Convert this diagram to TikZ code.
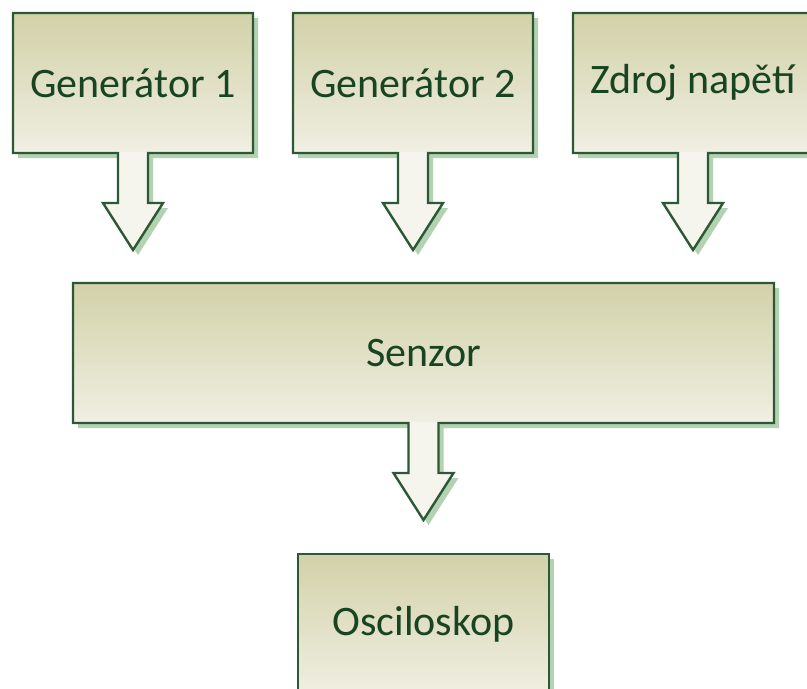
\documentclass[tikz,border=0pt]{standalone}
\usepackage{fontspec}
\setmainfont{Carlito}
\usetikzlibrary{backgrounds}
\definecolor{boxtop}{RGB}{210,209,168}
\definecolor{boxbot}{RGB}{240,239,227}
\definecolor{arrowc}{RGB}{245,245,237}
\definecolor{borderc}{RGB}{44,88,54}
\definecolor{textc}{RGB}{24,68,34}
\definecolor{shadowc}{RGB}{178,210,178}
\tikzset{
  box/.style={inner sep=0pt, outer sep=0pt, text=textc,
    font=\fontsize{42}{50}\selectfont},
  outline/.style={draw=borderc, line width=2.4pt, line join=miter},
  shadowpath/.style={fill=shadowc, transform canvas={xshift=5pt,yshift=-5pt}},
  boxshade/.style={top color=boxtop, bottom color=boxbot},
  arrowfill/.style={fill=arrowc}
}
% full outline of a box with a down arrow below it
\newcommand\callout[1]{(#1.north west) -- (#1.north east) -- (#1.south east)
  -- ([xshift=15pt]#1.south) -- ([xshift=15pt,yshift=-50pt]#1.south)
  -- ([xshift=30pt,yshift=-50pt]#1.south) -- ([yshift=-97pt]#1.south)
  -- ([xshift=-30pt,yshift=-50pt]#1.south) -- ([xshift=-15pt,yshift=-50pt]#1.south)
  -- ([xshift=-15pt]#1.south) -- (#1.south west) -- cycle}
\newcommand\arrowonly[1]{([xshift=15pt,yshift=1pt]#1.south) -- ([xshift=15pt,yshift=-50pt]#1.south)
  -- ([xshift=30pt,yshift=-50pt]#1.south) -- ([yshift=-97pt]#1.south)
  -- ([xshift=-30pt,yshift=-50pt]#1.south) -- ([xshift=-15pt,yshift=-50pt]#1.south)
  -- ([xshift=-15pt,yshift=1pt]#1.south) -- cycle}
\newcommand\drawcallout[1]{%
  \fill[shadowpath] \callout{#1};
  \shade[boxshade] (#1.north west) rectangle (#1.south east);
  \fill[arrowfill] \arrowonly{#1};
  \draw[outline] \callout{#1};}
\newcommand\drawplain[1]{%
  \fill[shadowpath] (#1.north west) rectangle (#1.south east);
  \shade[boxshade] (#1.north west) rectangle (#1.south east);
  \draw[outline] (#1.north west) rectangle (#1.south east);}
\begin{document}
\begin{tikzpicture}[x=1pt,y=1pt]
\clip (0,0) rectangle (807,-689);
\useasboundingbox (0,0) rectangle (807,-689);
\node[box, minimum width=240pt, minimum height=140pt] (g1) at (133,-83) {Generátor 1};
\node[box, minimum width=240pt, minimum height=140pt] (g2) at (413,-83) {Generátor 2};
\node[box, minimum width=240pt, minimum height=140pt] (zn) at (693,-83) {Zdroj napětí};
\node[box, minimum width=701pt, minimum height=140pt] (se) at (423.5,-353) {Senzor};
\node[box, minimum width=251pt, minimum height=140pt] (os) at (423.5,-624) {Osciloskop};
\begin{pgfonlayer}{background}
  \drawcallout{g1}
  \drawcallout{g2}
  \drawcallout{zn}
  \drawcallout{se}
  \drawplain{os}
\end{pgfonlayer}
\end{tikzpicture}
\end{document}
